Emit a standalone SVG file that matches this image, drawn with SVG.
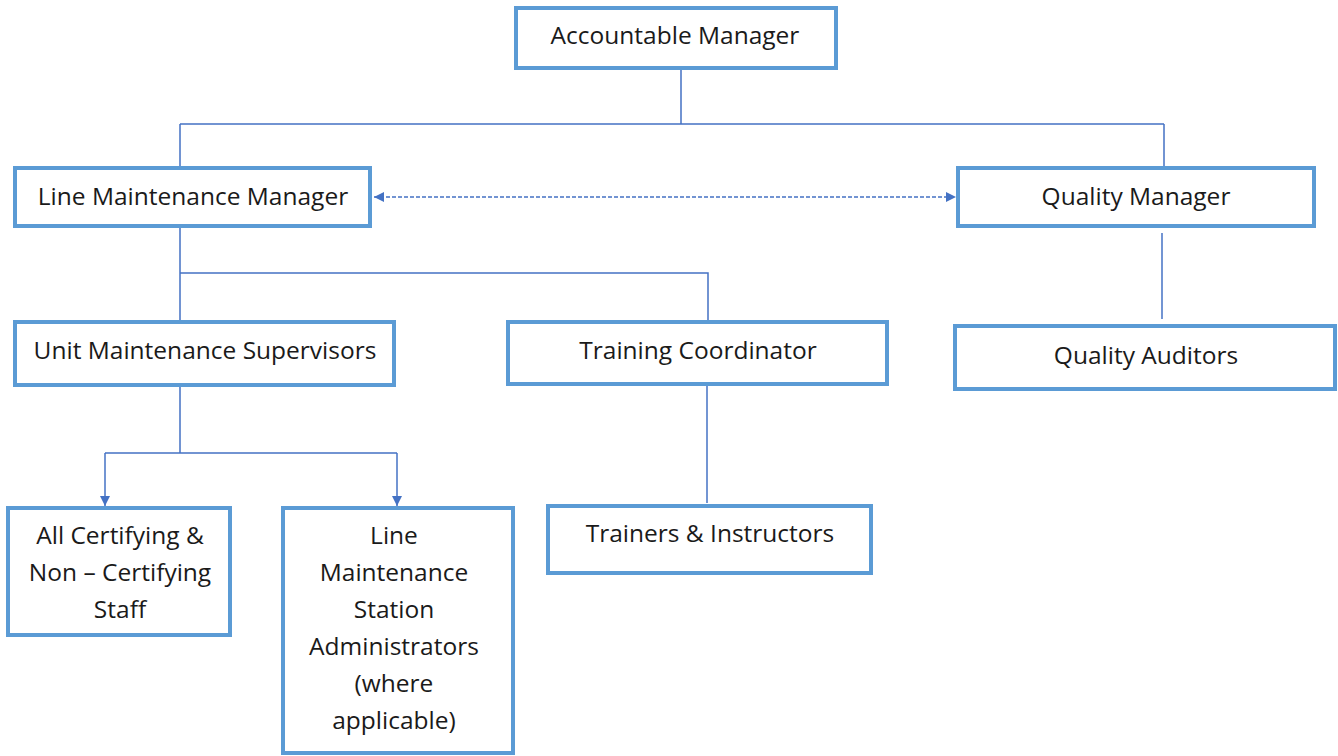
<svg xmlns="http://www.w3.org/2000/svg" width="1338" height="756" viewBox="0 0 1338 756">
<style>
.box{fill:#fff;stroke:#5B9BD5;stroke-width:4}
.t{font-family:"Open Sans","Liberation Sans",sans-serif;font-size:24.5px;fill:#1a1a1a;text-anchor:middle}
.c{fill:none;stroke:#4472C4;stroke-width:1.5}
.d{fill:none;stroke:#4472C4;stroke-width:1.5;stroke-dasharray:4 2}
</style>
<defs>
<marker id="ah" viewBox="0 0 10 10" refX="10" refY="5" markerWidth="10" markerHeight="10" markerUnits="userSpaceOnUse" orient="auto-start-reverse">
<path d="M0,0 L10,5 L0,10 z" fill="#4472C4"/>
</marker>
</defs>
<rect width="1338" height="756" fill="#fff"/>
<g id="connectors">
<path class="c" d="M681,68 V124 M180,124 H1164 M180,124 V167 M1164,124 V168"/>
<path class="d" d="M374,197 H956" marker-start="url(#ah)" marker-end="url(#ah)"/>
<path class="c" d="M180,226 V321 M180,273 H708 V321"/>
<path class="c" d="M1162,233 V319"/>
<path class="c" d="M180,385 V453 M105,453 H397"/>
<path class="c" d="M105,453 V506" marker-end="url(#ah)"/>
<path class="c" d="M397,453 V506" marker-end="url(#ah)"/>
<path class="c" d="M707,384 V503"/>
</g>
<g id="accountable-manager">
<rect class="box" x="516" y="8" width="320" height="60"/>
<text class="t" x="675" y="44">Accountable Manager</text>
</g>
<g id="line-maintenance-manager">
<rect class="box" x="15" y="168" width="355" height="58"/>
<text class="t" x="193" y="205">Line Maintenance Manager</text>
</g>
<g id="quality-manager">
<rect class="box" x="958" y="168" width="356" height="58"/>
<text class="t" x="1136" y="205">Quality Manager</text>
</g>
<g id="unit-maintenance-supervisors">
<rect class="box" x="15" y="322" width="379" height="63"/>
<text class="t" x="205" y="359">Unit Maintenance Supervisors</text>
</g>
<g id="training-coordinator">
<rect class="box" x="508" y="322" width="379" height="62"/>
<text class="t" x="698" y="359">Training Coordinator</text>
</g>
<g id="quality-auditors">
<rect class="box" x="955" y="326" width="380" height="63"/>
<text class="t" x="1146" y="364">Quality Auditors</text>
</g>
<g id="certifying-staff">
<rect class="box" x="8" y="508" width="222" height="127"/>
<text class="t" x="120" y="544">All Certifying &amp;</text>
<text class="t" x="120" y="581">Non – Certifying</text>
<text class="t" x="120" y="618">Staff</text>
</g>
<g id="station-administrators">
<rect class="box" x="283" y="508" width="230" height="245"/>
<text class="t" x="394" y="544">Line</text>
<text class="t" x="394" y="581">Maintenance</text>
<text class="t" x="394" y="618">Station</text>
<text class="t" x="394" y="655">Administrators</text>
<text class="t" x="394" y="692">(where</text>
<text class="t" x="394" y="729">applicable)</text>
</g>
<g id="trainers-instructors">
<rect class="box" x="548" y="506" width="323" height="67"/>
<text class="t" x="710" y="542">Trainers &amp; Instructors</text>
</g>
</svg>
